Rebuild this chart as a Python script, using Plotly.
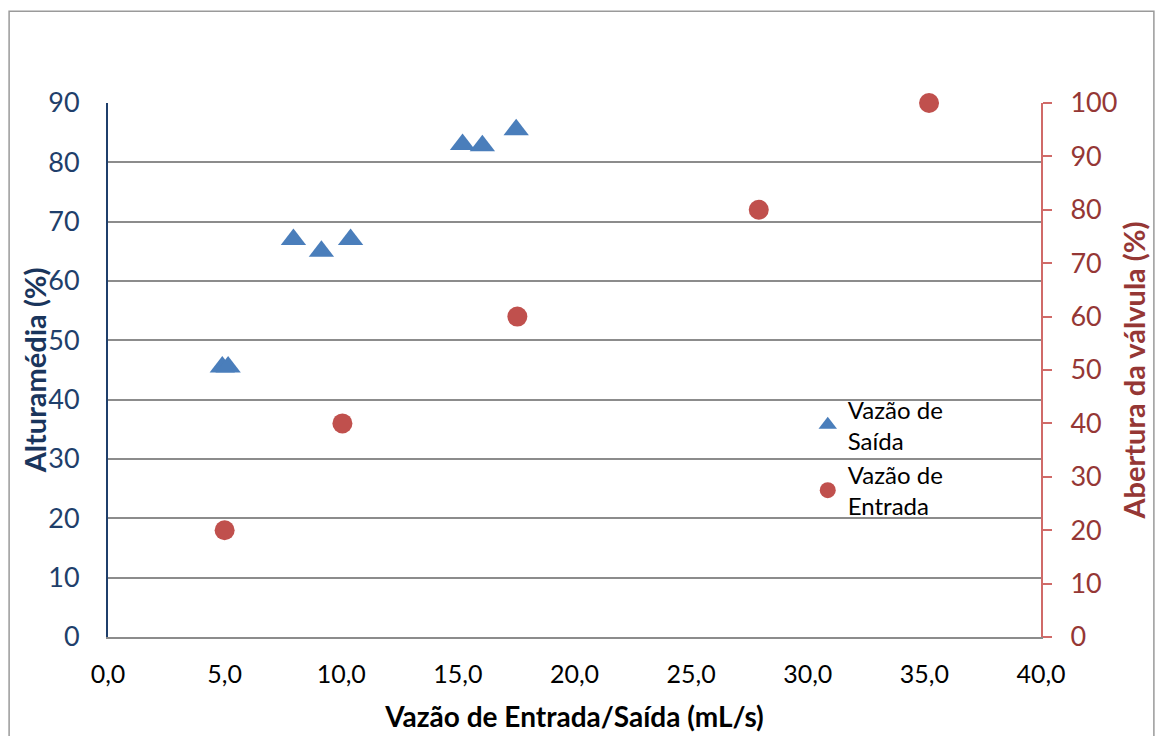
import plotly.graph_objects as go

# Data
saida_x = [4.9, 5.15, 7.95, 9.15, 10.4, 15.2, 16.05, 17.5]
saida_y = [45.5, 45.5, 67, 65, 67, 83, 82.8, 85.5]
entrada_x = [5.0, 10.05, 17.55, 27.9, 35.2]
entrada_y = [20, 40, 60, 80, 100]

x_ticks = [0, 5, 10, 15, 20, 25, 30, 35, 40]
left_ticks = [0, 10, 20, 30, 40, 50, 60, 70, 80, 90]
right_ticks = [0, 10, 20, 30, 40, 50, 60, 70, 80, 90, 100]

FONT = "Lato"
BLUE_DARK = "#1F3F6B"
RED_DARK = "#953735"

fig = go.Figure()
fig.add_trace(go.Scatter(
    x=saida_x, y=saida_y, mode="markers", name="Vazão de<br>Saída",
    marker=dict(symbol="triangle-up", size=22, color="#4A7EBB"),
    yaxis="y", cliponaxis=False,
))
fig.add_trace(go.Scatter(
    x=entrada_x, y=entrada_y, mode="markers", name="Vazão de<br>Entrada",
    marker=dict(symbol="circle", size=20, color="#C0504D"),
    yaxis="y2", cliponaxis=False,
))

fig.update_layout(
    width=1157, height=736,
    margin=dict(l=108, r=116, t=103, b=99, autoexpand=False),
    paper_bgcolor="white", plot_bgcolor="white",
    separators=",.",
    font=dict(family=FONT, size=26, color="black"),
    showlegend=True,
    legend=dict(
        x=0.750, y=0.468, xanchor="left", yanchor="top",
        bgcolor="rgba(0,0,0,0)", borderwidth=0,
        font=dict(family=FONT, size=24, color="black"),
        itemwidth=30, tracegroupgap=0,
    ),
    xaxis=dict(
        range=[0, 40], tickvals=x_ticks, tickformat=".1f",
        showgrid=False, zeroline=False,
        showline=True, linecolor="#8c8c8c", linewidth=2,
        ticks="", ticklabelstandoff=14,
        tickfont=dict(family=FONT, size=25, color="black"),
        title=dict(text="<b>Vazão de Entrada/Saída (mL/s)</b>",
                   font=dict(family=FONT, size=28, color="black"), standoff=20),
        automargin=False,
    ),
    yaxis=dict(
        range=[0, 90], tickvals=left_ticks,
        showgrid=True, gridcolor="#8c8c8c", gridwidth=1.6,
        zeroline=False,
        showline=True, linecolor=BLUE_DARK, linewidth=2,
        ticks="", ticklabelstandoff=21,
        tickfont=dict(family=FONT, size=27, color=BLUE_DARK),
        automargin=False,
    ),
    yaxis2=dict(
        range=[0, 100], tickvals=right_ticks,
        overlaying="y", side="right",
        showgrid=False, zeroline=False,
        showline=True, linecolor="#D06A68", linewidth=2,
        ticks="outside", ticklen=9, tickcolor="#D06A68", tickwidth=2,
        ticklabelstandoff=13,
        tickfont=dict(family=FONT, size=27, color=RED_DARK),
        title=dict(text="<b>Abertura da válvula (%)</b>",
                   font=dict(family=FONT, size=29, color=RED_DARK), standoff=8),
        automargin=False,
    ),
    annotations=[dict(
        text="<b>Alturamédia (%)</b>", textangle=-90,
        xref="paper", yref="paper", x=-0.079, y=0.5,
        xanchor="center", yanchor="middle", showarrow=False,
        font=dict(family=FONT, size=29, color="#1A355C"),
    )],
    shapes=[dict(
        type="rect", xref="paper", yref="paper",
        x0=-0.106, x1=1.121, y0=-0.2, y1=1.172,
        line=dict(color="#9a9a9a", width=1.5), fillcolor="rgba(0,0,0,0)",
        layer="below",
    )],
)

fig.write_html("out.html")
